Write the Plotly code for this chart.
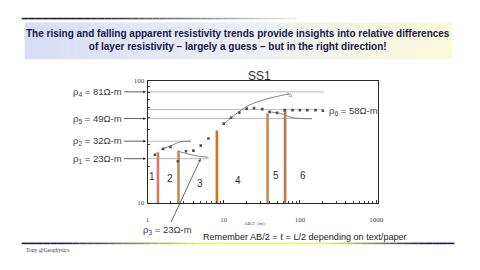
import plotly.graph_objects as go
import numpy as np

# ---------------- data ----------------
ab2 = [1.25, 1.6, 2, 2.5, 3.2, 4, 5, 6.3, 10, 12.5, 16, 20, 25, 32, 40, 50, 63, 80, 100, 125, 160, 200]
rho_a = [24.8, 27.7, 28.7, 21.9, 26.5, 26.8, 29.4, 33.6, 44.5, 49.7, 54.8, 59.1, 59.6, 58.5, 55.5, 54.5,
         57.4, 57.4, 57.4, 57.4, 57.4, 56.8]

bar_x = [1.37, 2.55, 8.13, 37.6, 63.8]
bar_top = [26.0, 26.8, 39.2, 54.0, 58.4]
bar_colors = ["#dc7a5e", "#c58a4e", "#d4711f", "#c98a52", "#b97a48"]
layer_labels = ["1", "2", "3", "4", "5", "6"]

rho_names = ["ρ<sub>4</sub> = 81Ω-m", "ρ<sub>5</sub> = 49Ω-m", "ρ<sub>2</sub> = 32Ω-m", "ρ<sub>1</sub> = 23Ω-m"]
rho_vals = [81, 49, 32, 23]
ref_line_vals = [81, 58, 49, 32, 23]
ref_line_end = [206, 206, 143, 3.7, 6.3]

curveA_x = [1.5, 2.1, 2.7, 3.7]
curveA_y = [27.3, 29.6, 31.6, 32]
curveB_x = [2.51, 3.5, 4.8, 6.3]
curveB_y = [26.5, 25.0, 24.1, 23.6]
curveC_x = [10.06, 15.4, 20.7, 27.9, 45.8, 71.5]
curveC_y = [44.5, 55.0, 62.2, 67.3, 73.4, 77.9]
curveD_x = [37.5, 55.7, 78.8, 143]
curveD_y = [55.6, 54.0, 49.9, 48.8]

x_ticks = [1, 10, 100, 1000]
y_ticks = [10, 100]

W, H = 480, 270
def px(x):
    return x / W
def py(y):
    return 1 - y / H

fig = go.Figure()

# reference horizontal lines
for v, e in zip(ref_line_vals, ref_line_end):
    fig.add_trace(go.Scatter(x=[1, e], y=[v, v], mode="lines",
                             line=dict(color="#a8a8a8", width=0.8), hoverinfo="skip", showlegend=False))

# interpretation curves
for cx, cy in [(curveA_x, curveA_y), (curveB_x, curveB_y), (curveC_x, curveC_y), (curveD_x, curveD_y)]:
    fig.add_trace(go.Scatter(x=cx, y=cy, mode="lines", line=dict(color="#6a6a6a", width=0.8, shape="spline"),
                             hoverinfo="skip", showlegend=False))

# layer boundary bars
for bx, bt, bc in zip(bar_x, bar_top, bar_colors):
    fig.add_trace(go.Scatter(x=[bx, bx], y=[10, bt], mode="lines", line=dict(color=bc, width=2.6),
                             hoverinfo="skip", showlegend=False))

# apparent resistivity points
fig.add_trace(go.Scatter(x=ab2, y=rho_a, mode="markers",
                         marker=dict(symbol="square", size=2.6, color="#505050"), showlegend=False))

x0, x1 = 148, 382
y0, y1 = 79, 205
dec_px = 77.5
fig.update_xaxes(type="log", range=[0, (x1 - x0) / dec_px], domain=[px(x0), px(x1)],
                 showgrid=False, zeroline=False, showline=True, mirror=True,
                 linecolor="#2a2a2a", linewidth=1,
                 ticks="inside", ticklen=3, tickcolor="#333",
                 tickvals=x_ticks, ticktext=[str(t) for t in x_ticks],
                 tickfont=dict(family="Liberation Serif", size=7, color="#444"),
                 ticklabelstandoff=10,
                 minor=dict(ticks="inside", ticklen=2, tickcolor="#444",
                            tickvals=[m * d for d in (1, 10, 100) for m in range(2, 10)]))
fig.update_yaxes(type="log", range=[1, 2], domain=[py(y1), py(y0)],
                 showgrid=False, zeroline=False, showline=True, mirror=True,
                 linecolor="#2a2a2a", linewidth=1,
                 ticks="inside", ticklen=3, tickcolor="#333",
                 tickvals=y_ticks, ticktext=[str(t) for t in y_ticks],
                 tickfont=dict(family="Liberation Serif", size=7, color="#444"),
                 ticklabelstandoff=1,
                 minor=dict(ticks="inside", ticklen=2, tickcolor="#444",
                            tickvals=list(range(20, 100, 10))))

shapes = []
# title gradient box
n = 60
bx0, bx1, by0, by1 = 23, 457, 19, 57
c_left = np.array([217, 221, 245])
c_mid = np.array([236, 238, 246])
c_right = np.array([251, 251, 217])
for i in range(n):
    t = (i + 0.5) / n
    if t < 0.5:
        c = c_left + (c_mid - c_left) * (t / 0.5)
    else:
        c = c_mid + (c_right - c_mid) * ((t - 0.5) / 0.5)
    xa = bx0 + (bx1 - bx0) * i / n
    xb = bx0 + (bx1 - bx0) * (i + 1) / n + 0.5
    shapes.append(dict(type="rect", xref="paper", yref="paper", x0=px(xa), x1=px(xb), y0=py(by1), y1=py(by0),
                       fillcolor="rgb(%d,%d,%d)" % tuple(c.astype(int)), line=dict(width=0), layer="below"))

# top rule fading
n2 = 40
for i in range(n2):
    t = i / n2
    xa = 20 + 280 * i / n2
    xb = 20 + 280 * (i + 1) / n2
    k = min(1, max(0, (t - 0.2) / 0.8))
    c = np.array([26, 26, 64]) * (1 - k) + np.array([245, 245, 225]) * k
    shapes.append(dict(type="line", xref="paper", yref="paper", x0=px(xa), x1=px(xb), y0=py(15), y1=py(15),
                       line=dict(color="rgb(%d,%d,%d)" % tuple(c.astype(int)), width=1.6)))

# bottom rule navy -> yellow -> navy
n3 = 60
for i in range(n3):
    xa = 20 + 440 * i / n3
    xb = 20 + 440 * (i + 1) / n3
    xm = (xa + xb) / 2
    if xm < 200:
        k = max(0, (xm - 60) / 140)
    elif xm < 330:
        k = 1
    else:
        k = max(0, 1 - (xm - 330) / 100)
    c = np.array([26, 26, 80]) * (1 - k) + np.array([235, 240, 110]) * k
    shapes.append(dict(type="line", xref="paper", yref="paper", x0=px(xa), x1=px(xb), y0=py(246.7), y1=py(246.7),
                       line=dict(color="rgb(%d,%d,%d)" % tuple(c.astype(int)), width=1.6)))

fig.update_layout(shapes=shapes)

ann = []
F = "Arial, Liberation Sans"

def text_ann(x, y, text, size, color="#333", family=F, xanchor="center"):
    return dict(xref="paper", yref="paper", x=px(x), y=py(y), xanchor=xanchor, yanchor="middle",
                showarrow=False, text=text, font=dict(family=family, size=size, color=color))

ann.append(text_ann(240, 37,
                    "<b>The rising and falling apparent resistivity trends provide insights into relative differences<br>"
                    "of layer resistivity – largely a guess – but in the right direction!</b>",
                    10, "#16164a"))
ann.append(text_ann(262, 74, "SS1", 12))

# rho labels with arrows pointing at the resistivity axis
for name, v in zip(rho_names, rho_vals):
    yy = float(np.log10(v))
    ann.append(dict(xref="paper", yref="y", x=px(146.5), y=yy, text=name, showarrow=True,
                    ax=-22, ay=0, xanchor="right", yanchor="middle",
                    arrowhead=2, arrowsize=0.7, arrowwidth=0.8, arrowcolor="#333",
                    font=dict(family=F, size=9.5, color="#3a3a3a")))

ann.append(text_ann(331, 110, "ρ<sub>6</sub> = 58Ω-m", 9.5, "#3a3a3a", xanchor="left"))
ann.append(dict(xref="x", yref="y", x=float(np.log10(4.97)), y=float(np.log10(23)),
                text="ρ<sub>3</sub> = 23Ω-m", showarrow=True, ax=-33, ay=71,
                arrowhead=2, arrowsize=0.7, arrowwidth=0.8, arrowcolor="#444",
                font=dict(family=F, size=9.5, color="#3a3a3a")))
ann.append(text_ann(292, 94, "½", 6, "#555"))

layer_pos = [(153, 178), (171, 180), (201, 185), (240, 182), (279, 177), (306, 177)]
for lab, (lx, ly) in zip(layer_labels, layer_pos):
    ann.append(text_ann(lx, ly, lab, 10))

ann.append(text_ann(257, 226.5, "AB/2  (m)", 5, "#444", family="Liberation Serif"))
ann.append(text_ann(308, 240, "Remember AB/2 = ℓ = L/2 depending on text/paper", 9.1, "#222"))
ann.append(text_ann(22, 254, "Tony @Geophysics", 5.5, "#3a3a5a", family="Liberation Serif", xanchor="left"))

fig.update_layout(annotations=ann, width=W, height=H, margin=dict(l=0, r=0, t=0, b=0),
                  paper_bgcolor="white", plot_bgcolor="white", showlegend=False)

fig.write_html("out.html")
